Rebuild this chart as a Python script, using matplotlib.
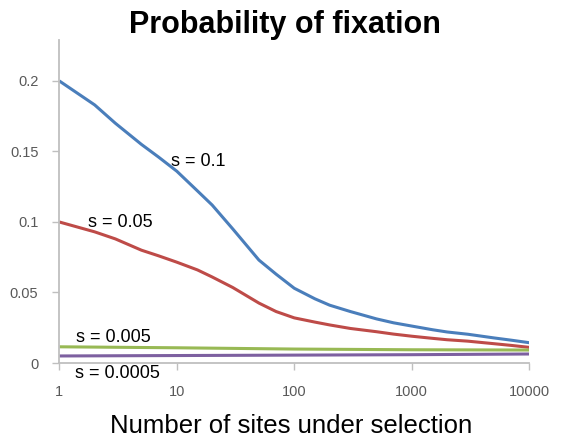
import matplotlib
matplotlib.use("Agg")
import matplotlib.pyplot as plt
from matplotlib.ticker import FixedLocator, NullLocator

sites = [1, 2, 3, 5, 7, 10, 15, 20, 30, 50, 70, 100, 150, 200, 300, 500, 700,
         1000, 1500, 2000, 3000, 5000, 7000, 10000]
p_s01 = [0.200, 0.183, 0.170, 0.155, 0.146, 0.136, 0.122, 0.112, 0.095, 0.073,
         0.063, 0.053, 0.0455, 0.041, 0.0365, 0.0313, 0.0285, 0.0262, 0.0236,
         0.022, 0.0204, 0.0178, 0.0162, 0.0144]
p_s005 = [0.100, 0.093, 0.088, 0.080, 0.076, 0.0715, 0.066, 0.061, 0.0535,
          0.0425, 0.0365, 0.032, 0.029, 0.027, 0.0245, 0.0222, 0.0205, 0.019,
          0.0175, 0.0165, 0.0155, 0.0137, 0.0125, 0.0111]
sites_low = [1, 10, 100, 1000, 10000]
p_s0005 = [0.0115, 0.0108, 0.0099, 0.0094, 0.0092]
p_s00005 = [0.0050, 0.0053, 0.0056, 0.0059, 0.0064]

series = [
    (sites, p_s01, "#4A7EBB"),
    (sites, p_s005, "#BE4B48"),
    (sites_low, p_s0005, "#98B954"),
    (sites_low, p_s00005, "#7D60A0"),
]

label_text = ["s = 0.1", "s = 0.05", "s = 0.005", "s = 0.0005"]

y_ticks = [0, 0.05, 0.1, 0.15, 0.2]
y_ticklabels = ["0", "0.05", "0.1", "0.15", "0.2"]
x_ticks = [1, 10, 100, 1000, 10000]
x_ticklabels = ["1", "10", "100", "1000", "10000"]

plt.rcParams['font.family'] = ['Liberation Sans', 'DejaVu Sans']

fig = plt.figure(figsize=(5.62, 4.37), dpi=100)
ax = fig.add_axes([0.1055, 0.1693, 0.8363, 0.7391])

for xs, vals, col in series:
    ax.plot(xs, vals, color=col, lw=2.2, solid_capstyle='butt',
            solid_joinstyle='round')

ax.set_xscale('log')
ax.set_xlim(1, 10000)
ax.set_ylim(0, 0.229)
ax.xaxis.set_major_locator(FixedLocator(x_ticks))
ax.xaxis.set_minor_locator(NullLocator())
ax.set_xticklabels(x_ticklabels)
ax.set_yticks(y_ticks)
ax.set_yticklabels(y_ticklabels)

for sp in ['top', 'right']:
    ax.spines[sp].set_visible(False)
for sp in ['left', 'bottom']:
    ax.spines[sp].set_color('#BFBFBF')
    ax.spines[sp].set_linewidth(1.3)

ax.tick_params(axis='both', colors='#BFBFBF', length=5, width=1.0,
               labelcolor='#595959', labelsize=10.5)
ax.tick_params(axis='x', pad=11)
ax.tick_params(axis='y', pad=10)

fig.text(0.507, 1 - 33 / 437, "Probability of fixation",
         ha='center', va='baseline', fontsize=22, fontweight='bold', color='black')
fig.text(0.518, 1 - 433 / 437, "Number of sites under selection", ha='center',
         va='baseline', fontsize=18.5, color='black')

ax.text(8.9, 0.1428, label_text[0], fontsize=13, ha='left', va='center')
ax.text(1.77, 0.0996, label_text[1], fontsize=13, ha='left', va='center')
ax.text(1.40, 0.0181, label_text[2], fontsize=13, ha='left', va='center')
ax.text(1.36, -0.0076, label_text[3], fontsize=13, ha='left', va='center')

fig.savefig("out.png", dpi=100)
